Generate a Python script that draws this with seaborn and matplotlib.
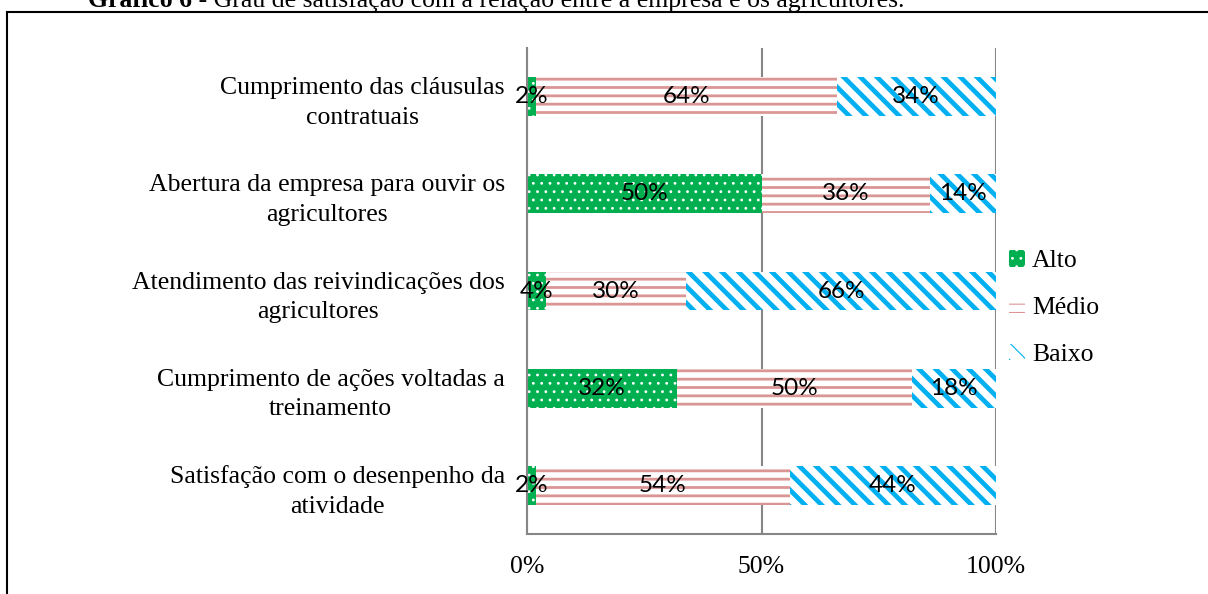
import matplotlib
matplotlib.use("Agg")
import matplotlib.pyplot as plt
import seaborn as sns
import numpy as np
from matplotlib.patches import Patch, Rectangle
from matplotlib.ticker import FixedLocator, PercentFormatter

# data (% of answers)
categories = [
    "Cumprimento das cláusulas\ncontratuais",
    "Abertura da empresa para ouvir os\nagricultores",
    "Atendimento das reivindicações dos\nagricultores",
    "Cumprimento de ações voltadas a\ntreinamento",
    "Satisfação com o desenpenho da\natividade",
]
alto = [2, 50, 4, 32, 2]
medio = [64, 36, 30, 50, 54]
baixo = [34, 14, 66, 18, 44]
series_names = ["Alto", "Médio", "Baixo"]

GREEN = "#00B050"
PINK = "#DA9694"
BLUE = "#00B0F0"
GRID = "#868686"
SERIF = "Liberation Serif"
SANS = "Lato"

sns.set_style("white")
plt.rcParams["font.family"] = [SERIF, "DejaVu Serif"]
plt.rcParams["text.color"] = "black"
plt.rcParams["xtick.color"] = "black"
plt.rcParams["ytick.color"] = "black"

fig = plt.figure(figsize=(12.08, 5.94), dpi=100)
ax = fig.add_axes([527 / 1208, 1 - 534 / 594, (996 - 527) / 1208, (534 - 48) / 594])

a = np.array(alto)
m = np.array(medio)
b = np.array(baixo)


def draw_layer(values, face, edge, hatch, hlw):
    plt.rcParams["hatch.linewidth"] = hlw
    n0 = len(ax.patches)
    sns.barplot(x=values, y=categories, orient="h", ax=ax, color=face,
                saturation=1, width=0.4, edgecolor=edge, hatch=hatch,
                linewidth=0, zorder=3)
    for p in ax.patches[n0:]:
        if hasattr(p, "set_hatch_linewidth"):
            p.set_hatch_linewidth(hlw)


# stacked bars drawn as cumulative layers, back to front
draw_layer(a + m + b, "white", BLUE, "\\\\", 3.4)
draw_layer(a + m, "white", PINK, "--", 2.0)
draw_layer(a, GREEN, "white", "..", 0.8)

# percentage labels centred in each segment
starts = [np.zeros(len(a)), a, a + m]
for vals, left in zip([a, m, b], starts):
    for i, (v, l) in enumerate(zip(vals, left)):
        ax.text(l + v / 2, i, f"{v}%", ha="center", va="center",
                fontsize=17.5, family=[SANS, "DejaVu Sans"], color="black", zorder=5)

ax.set_xlim(0, 100)
ax.set_ylim(4.5, -0.5)
ax.set_xlabel("")
ax.set_ylabel("")
ax.xaxis.set_major_locator(FixedLocator([0, 50, 100]))
ax.xaxis.set_major_formatter(PercentFormatter(100, decimals=0))
ax.grid(axis="x", color=GRID, linewidth=1.5, zorder=0)
ax.grid(axis="y", visible=False)
ax.yaxis.set_minor_locator(FixedLocator(np.arange(-0.5, 5, 1)))

for side in ["top", "right"]:
    ax.spines[side].set_visible(False)
for side in ["left", "bottom"]:
    ax.spines[side].set_color(GRID)
    ax.spines[side].set_linewidth(1.5)
    ax.spines[side].set_zorder(4)

ax.tick_params(axis="y", which="major", length=0, pad=16, labelsize=18.5)
ax.tick_params(axis="y", which="minor", length=8, width=1.5, color=GRID, direction="out")
ax.tick_params(axis="x", which="major", length=7, width=1.5, color=GRID,
               direction="out", pad=9, labelsize=18.5)
for t in ax.get_yticklabels():
    t.set_linespacing(1.45)
    t.set_multialignment("center")

# legend
handles = [
    Patch(facecolor=GREEN, edgecolor="white", hatch="..", linewidth=0, label="Alto"),
    Patch(facecolor="white", edgecolor=PINK, hatch="--", linewidth=0, label="Médio"),
    Patch(facecolor="white", edgecolor=BLUE, hatch="\\\\", linewidth=0, label="Baixo"),
]
fig.legend(handles=handles, loc="center left", bbox_to_anchor=(986 / 1208, 1 - 308 / 594),
           frameon=False, fontsize=18.5, handlelength=0.6, handleheight=0.6,
           handletextpad=0.3, labelspacing=0.95)

# outer frame of the document figure
fig.patches.append(Rectangle((7 / 1208, -0.05), 1.1, 1.05 - 12 / 594,
                             transform=fig.transFigure, fill=False,
                             edgecolor="black", linewidth=1.5))

# caption, cut off by the top edge as in the source
t1 = fig.text(88 / 1208, 1 - 7 / 594, "Gráfico 6", fontsize=18.5,
              fontweight="bold", va="baseline")
ax.annotate(" - Grau de satisfação com a relação entre a empresa e os agricultores.",
            xy=(1, 0), xycoords=t1, va="bottom", ha="left", fontsize=18.5,
            annotation_clip=False)

fig.savefig("out.png", dpi=100)
